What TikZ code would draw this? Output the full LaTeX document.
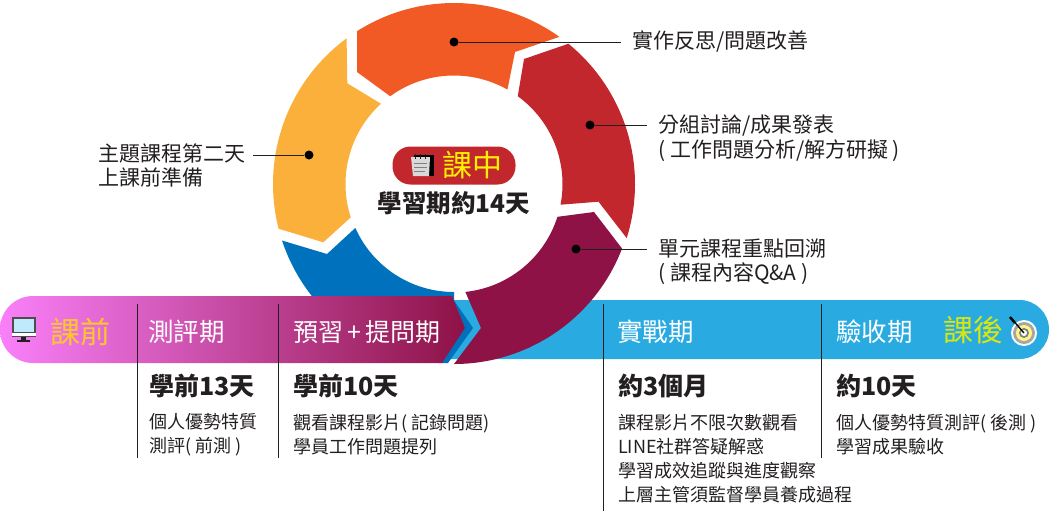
\documentclass[tikz,border=0pt]{standalone}
\usepackage{fontspec}
\setmainfont{Noto Sans CJK TC}
\usetikzlibrary{positioning}
\definecolor{myorange}{RGB}{241,90,36}
\definecolor{myred}{RGB}{193,39,45}
\definecolor{mymaroon}{RGB}{142,18,70}
\definecolor{myyellow}{RGB}{251,176,59}
\definecolor{myblue}{RGB}{0,113,188}
\definecolor{mysky}{RGB}{41,171,226}
\definecolor{mypink}{RGB}{250,128,250}
\definecolor{myink}{RGB}{35,31,32}

\begin{document}
\begin{tikzpicture}[x=1pt,y=-1pt,
  every node/.style={inner sep=0pt,text=myink},
  dotnode/.style={circle,fill=black,minimum size=9pt},
  leader/.style={draw=myink,line width=0.9pt},
  divider/.style={draw=myink,line width=0.8pt},
  headtext/.style={anchor=west,text=white,font=\fontsize{25.5}{28}\selectfont},
  sidetext/.style={anchor=west,font=\fontsize{30}{32}\selectfont},
  daytext/.style={anchor=west,font=\bfseries\fontsize{25}{28}\selectfont},
  bodytext/.style={anchor=north west,align=left,font=\fontsize{18}{24}\selectfont},
  calltext/.style={anchor=west,align=left,font=\fontsize{21}{24.5}\selectfont}
]
\useasboundingbox (0,0) rectangle (1049,512);

% the sky bar
\fill[mysky] (440,300) [rounded corners=29.5pt] -- (1049,300) -- (1049,359) [sharp corners] -- (440,359) -- cycle;

% the ring, angles from its centre
\begin{scope}[shift={(454,184)},y=1pt]
\fill[myblue] (198.2:181) arc[start angle=198.2,end angle=234,radius=181] -- (0,-146) -- (270:108)
  arc[start angle=270,end angle=204,radius=108] -- (-127,-70) -- cycle;
\fill[myyellow] (126.4:181) arc[start angle=126.4,end angle=194.3,radius=181] -- (-130.7,-58.3) -- (197.9:108.5)
  arc[start angle=197.9,end angle=132.3,radius=108.5] -- (-106.7,100.7) -- cycle;
\fill[myorange] (122.4:181) arc[start angle=122.4,end angle=54.4,radius=181] -- (61,132) -- (60.5:108.5)
  arc[start angle=60.5,end angle=126,radius=108.5] -- (-97,112) -- cycle;
\fill[myred] (50.8:181) arc[start angle=50.8,end angle=-17.4,radius=181] -- (144.5,-17.7) -- (-11:108.5)
  arc[start angle=-11,end angle=54,radius=108.5] -- (70,125) -- cycle;
\end{scope}

% the chevrons and the pink bar
\fill[myblue] (451,296) -- (473,328) -- (448,363) -- (441,363) -- (465,328) -- cycle;
\shade[left color=mypink,right color=mymaroon] (442,363) [rounded corners=33pt] -- (0,363) -- (0,296)
  [sharp corners] -- (452,296) -- (465,328) -- cycle;

% the maroon part sits over both bars
\begin{scope}[shift={(454,184)},y=1pt]
\fill[mymaroon] (-21:180) arc[start angle=-21,end angle=-90,radius=180] -- (27,-144) -- (-84:108.5)
  arc[start angle=-84,end angle=-17.6,radius=108.5] -- (140,-28) -- cycle;
\end{scope}

% the dividers
\draw[divider] (137.5,304) -- (137.5,458);
\draw[divider] (278.5,304) -- (278.5,458);
\draw[divider] (603,304) -- (603,511);
\draw[divider] (821,304) -- (821,458);

% the leaders
\node[dotnode] (d1) at (454,42) {};
\node[dotnode] (d2) at (590,125) {};
\node[dotnode] (d3) at (576,249) {};
\node[dotnode] (d4) at (309,155) {};
\coordinate (e1) at (621,42);
\coordinate (e2) at (647,125);
\coordinate (e3) at (647,249);
\coordinate (e4) at (253,155);
\foreach \i in {1,...,4}
  \draw[leader] (d\i) -- (e\i);

% the callouts
\node[calltext] (t1) at (632,41.5) {實作反思/問題改善};
\node[calltext] (t2) at (658,138) {分組討論/成果發表\\( 工作問題分析/解方研擬 )};
\node[calltext] (t3) at (658,261.5) {單元課程重點回溯\\( 課程內容Q\&A )};
\node[calltext] (t4) at (98,165.5) {主題課程第二天\\上課前準備};

% the centre
\node[fill=myred,rounded corners=18pt,minimum width=123pt,minimum height=38pt] (pill) at (454,165.5) {};
\node[text=yellow,font=\fontsize{30}{32}\selectfont] (mid) at (472,165) {課中};
\node[font=\bfseries\fontsize{24.5}{28}\selectfont] (term) at (454,203.5) {學習期約14天};
\fill[black] (414,155) rectangle (434,176);
\fill[white!85!black] (411,157) -- (430,157) -- (429,176) -- (413,176) -- cycle;
\draw[myink,line width=0.7pt] (415,154) -- (415,159) (420,154) -- (420,159) (425,154) -- (425,159);
\draw[gray,line width=0.7pt] (414,163) -- (427,163) (414,167) -- (427,167) (414,171) -- (425,171);

% the heads
\node[sidetext,text=myyellow!70!yellow] (pre) at (50,332) {課前};
\node[headtext] (h1) at (148,332) {測評期};
\node[headtext,font=\fontsize{25}{28}\selectfont] (h2) at (293,332) {預習\kern4pt+\kern4pt提問期};
\node[headtext] (h3) at (617,332) {實戰期};
\node[headtext] (h4) at (836,332) {驗收期};
\node[sidetext,text=yellow!85!green] (post) at (943,330) {課後};

% the monitor
\fill[myink] (21,337) rectangle (26,341);
\fill[myink] (17,340) rectangle (30,342);
\fill[myink!80] (12,317) rectangle (36,337);
\fill[cyan!25] (14,319) rectangle (34,332);
\fill[white] (12,333) rectangle (36,336);

% the target
\fill[white] (1024,333) circle (13);
\fill[gray!70] (1024,333) circle (11);
\fill[yellow!50] (1024,333) circle (8);
\fill[gray] (1024,333) circle (5);
\fill[white] (1024,333) circle (3);
\draw[black,line width=1.3pt] (1011,318) -- (1024,333);
\draw[black,line width=2.5pt] (1010,317) -- (1015,323);

% the texts below the bars
\node[daytext] (a1) at (149,386) {學前13天};
\node[daytext] (a2) at (293,386) {學前10天};
\node[daytext] (a3) at (618,386) {約3個月};
\node[daytext] (a4) at (836,386) {約10天};
\node[bodytext] (b1) [below=15.5pt of a1.south west,anchor=north west] {個人優勢特質\\測評( 前測 )};
\node[bodytext] (b2) [below=15.5pt of a2.south west,anchor=north west] {觀看課程影片( 記錄問題)\\學員工作問題提列};
\node[bodytext] (b3) [below=15.5pt of a3.south west,anchor=north west] {課程影片不限次數觀看\\LINE社群答疑解惑\\學習成效追蹤與進度觀察\\上層主管須監督學員養成過程};
\node[bodytext] (b4) [below=15.5pt of a4.south west,anchor=north west] {個人優勢特質測評( 後測 )\\學習成果驗收};
\end{tikzpicture}
\end{document}
